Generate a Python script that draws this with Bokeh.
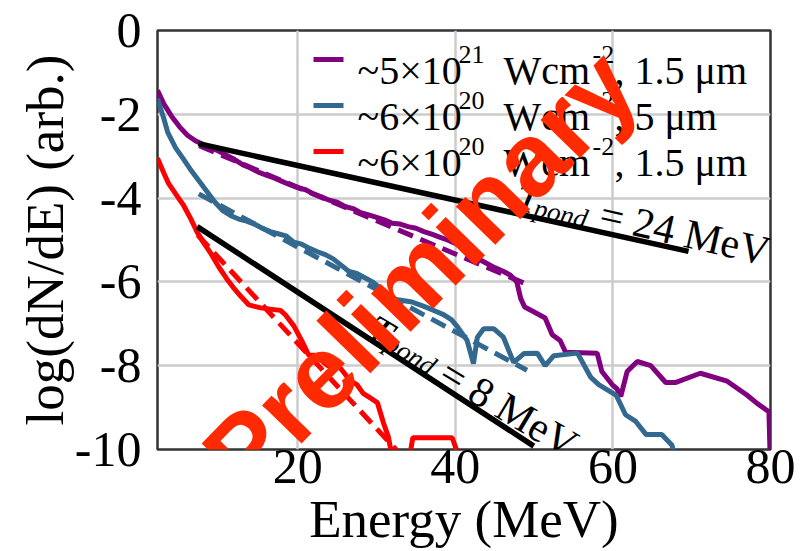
from bokeh.plotting import figure
from bokeh.models import Label, FixedTicker, Range1d
from bokeh.embed import file_html
from bokeh.resources import INLINE

# ---- spectra: energy (MeV) vs log(dN/dE) ----
e_5e21 = [2.2, 3, 4, 5, 6, 7, 8, 9, 10, 11, 12, 13, 14, 15, 16, 17, 18, 19, 20,
          21, 22, 23, 24, 25, 26, 27, 28, 29, 30, 31, 32, 33, 34, 35, 36, 37, 38,
          39, 40, 41, 42, 43, 44, 45, 46, 47, 47.8, 48.3, 48.8, 50, 51.4, 52.3,
          53.3, 54.0, 58.0, 58.6, 59.9, 60.5, 61.0, 61.8, 63.1, 64.8, 66.7, 68.0,
          71.1, 74.5, 77.0, 78.3, 79.8, 80.0]
s_5e21 = [-1.43, -1.75, -2.05, -2.3, -2.5, -2.63, -2.72, -2.8, -2.88, -2.98,
          -3.08, -3.2, -3.28, -3.38, -3.45, -3.52, -3.6, -3.68, -3.75, -3.8,
          -3.9, -3.97, -4.05, -4.1, -4.2, -4.25, -4.35, -4.4, -4.46, -4.52,
          -4.6, -4.62, -4.68, -4.72, -4.8, -4.86, -4.93, -5.0, -5.08, -5.18,
          -5.3, -5.46, -5.56, -5.66, -5.74, -5.84, -6.0, -6.4, -6.6, -6.72,
          -6.86, -7.26, -7.4, -7.68, -7.7, -8.14, -8.45, -8.55, -8.73, -8.14,
          -7.9, -8.0, -8.4, -8.4, -8.18, -8.37, -8.7, -8.9, -9.1, -10.5]

e_6e20_5um = [2.2, 3, 3.5, 4.5, 5.5, 6.5, 7.5, 8.5, 9.5, 10.5, 11.5, 12.5, 13.5,
              14.5, 15.5, 16.5, 17.5, 18.5, 19.5, 20.5, 21.5, 22.5, 23.5, 24.5,
              25.5, 26.5, 27.5, 28.5, 29.5, 30.5, 31.5, 32.5, 33.5, 34.5, 35.5,
              36.5, 37.5, 38.5, 39.5, 40.3, 41.5, 42.3, 42.8, 43.6, 44.9, 46.1,
              47.4, 48.7, 50.4, 51.4, 52.5, 55.5, 57.2, 58.2, 59.5, 60.4, 61.6,
              62.9, 64.2, 66.2, 67.5, 68.3]
s_6e20_5um = [-1.63, -2.1, -2.43, -2.8, -3.07, -3.35, -3.6, -3.85, -4.1, -4.3,
              -4.42, -4.5, -4.55, -4.62, -4.72, -4.8, -4.85, -4.9, -5.05, -5.1,
              -5.2, -5.28, -5.35, -5.45, -5.6, -5.75, -5.8, -5.9, -6.0, -6.15,
              -6.3, -6.42, -6.45, -6.48, -6.55, -6.62, -6.7, -6.78, -6.9, -7.08,
              -7.4, -7.95, -7.32, -7.12, -7.12, -7.32, -7.92, -7.71, -7.7, -8.0,
              -7.76, -7.7, -8.28, -8.45, -8.6, -8.7, -9.17, -9.33, -9.64, -9.64,
              -9.9, -10.5]

e_6e20_15um = [2.2, 3, 3.6, 4.5, 5.5, 6.3, 7.2, 8.0, 8.9, 10, 11, 11.8, 12.8,
               13.8, 15.3, 16.5, 17.8, 18.4, 19.5, 20.5, 21.4, 22.2, 23.8, 25,
               25.8, 26.6, 27.5, 28.3, 29.3, 30.1, 30.9, 31.5, 32.2, 34.0, 34.6,
               39.6, 40.9, 42.0]
s_6e20_15um = [-3.05, -3.4, -3.65, -3.9, -4.17, -4.45, -4.8, -5.05, -5.3, -5.65,
               -5.93, -6.13, -6.35, -6.55, -6.62, -6.65, -6.68, -6.78, -7.05,
               -7.4, -7.75, -7.75, -8.0, -7.97, -8.15, -8.35, -8.45, -8.66,
               -8.78, -8.88, -9.38, -9.7, -10.4, -10.4, -9.72, -9.72, -10.4,
               -10.4]

# ---- exponential fits (dashed) ----
fit_5e21_e = [7.5, 49.5]
fit_5e21_s = [-2.75, -6.09]
fit_6e20_5um_e = [7.44, 49.1]
fit_6e20_5um_s = [-3.9, -8.11]
fit_6e20_15um_e = [7.3, 33.0]
fit_6e20_15um_s = [-4.88, -10.11]

# ---- ponderomotive temperature reference slopes ----
tpond24_e = [7.4, 69.6]
tpond24_s = [-2.70, -5.27]
tpond8_e = [7.24, 49.96]
tpond8_s = [-4.68, -9.92]

x_ticks = [20, 40, 60, 80]
y_ticks = [0, -2, -4, -6, -8, -10]
y_tick_labels = ["0", "-2", "-4", "-6", "-8", "-10"]

# legend rows: (base, exponent, unit, unit exponent, tail)
legend_rows = [("~5×10", "21", "Wcm", "-2", ", 1.5 μm"),
               ("~6×10", "20", "Wcm", "-2", ", 5 μm"),
               ("~6×10", "20", "Wcm", "-2", ", 1.5 μm")]

PURPLE = "#800080"
BLUE = "#34698f"
RED = "#ff0000"
SERIF = "Liberation Serif"

X0, X1, Y0, Y1 = 2.2, 80.0, -10.0, 0.0
W, H = 809, 565
FL, FT, FR, FB = 157, 30, 39, 116          # frame borders in px
FW, FH = W - FL - FR, H - FT - FB


def at(px, py):
    """Canvas pixel position -> data coordinates of this frame."""
    return (X0 + (px - FL) * (X1 - X0) / FW,
            Y1 - (py - FT) * (Y1 - Y0) / FH)


p = figure(width=W, height=H, output_backend="svg", toolbar_location=None,
           x_range=Range1d(X0, X1), y_range=Range1d(Y0, Y1),
           min_border_left=FL, min_border_right=FR,
           min_border_top=FT, min_border_bottom=FB)

p.background_fill_color = "white"
p.border_fill_color = "white"
p.outline_line_color = "#333333"
p.outline_line_width = 2.5

p.xgrid.ticker = FixedTicker(ticks=x_ticks)
p.ygrid.ticker = FixedTicker(ticks=y_ticks)
for g in (p.xgrid, p.ygrid):
    g.grid_line_color = "#cccccc"
    g.grid_line_width = 2.5

p.xaxis.ticker = FixedTicker(ticks=x_ticks)
p.yaxis.ticker = FixedTicker(ticks=y_ticks)
p.yaxis.major_label_overrides = {t: s for t, s in zip(y_ticks, y_tick_labels)}
p.xaxis.major_label_overrides = {t: str(t) for t in x_ticks}

for ax in (p.xaxis[0], p.yaxis[0]):
    ax.axis_line_color = None
    ax.major_tick_line_color = None
    ax.minor_tick_line_color = None
    ax.major_label_text_font = SERIF
    ax.major_label_text_font_size = "50px"
    ax.major_label_text_color = "black"
    ax.axis_label_text_font = SERIF
    ax.axis_label_text_font_size = "53px"
    ax.axis_label_text_font_style = "normal"
    ax.axis_label_text_color = "black"

p.xaxis.axis_label = "Energy (MeV)"
p.yaxis.axis_label = "log(dN/dE) (arb.)"
p.xaxis.major_label_standoff = -6
p.xaxis.axis_label_standoff = 4
p.yaxis.major_label_standoff = 10
p.yaxis.axis_label_standoff = -2

LW = 5

# measured spectra
p.line(e_5e21, s_5e21, line_color=PURPLE, line_width=LW)
p.line(e_6e20_5um, s_6e20_5um, line_color=BLUE, line_width=LW)
p.line(e_6e20_15um, s_6e20_15um, line_color=RED, line_width=LW)

# fits
p.line(fit_5e21_e, fit_5e21_s, line_color=PURPLE, line_width=LW, line_dash="16 8")
p.line(fit_6e20_5um_e, fit_6e20_5um_s, line_color=BLUE, line_width=LW, line_dash="16 8")
p.line(fit_6e20_15um_e, fit_6e20_15um_s, line_color=RED, line_width=LW, line_dash="16 8")

# reference slopes
p.line(tpond24_e, tpond24_s, line_color="black", line_width=5.5)
p.line(tpond8_e, tpond8_s, line_color="black", line_width=5.5)


def text(px, py, s, size, style="normal", angle=0.0, align="left",
         font=SERIF, color="black", baseline="alphabetic"):
    x, y = at(px, py)
    p.add_layout(Label(x=x, y=y, text=s, angle=angle, angle_units="rad",
                       text_font=font, text_font_size=f"{size}px",
                       text_font_style=style, text_color=color,
                       text_align=align, text_baseline=baseline))


# legend
legend_colors = [PURPLE, BLUE, RED]
row_baselines = [70, 116, 162]
for (base, ex, unit, uex, tail), col, yb in zip(legend_rows, legend_colors,
                                                row_baselines):
    (lx0, ly), (lx1, _) = at(313, yb - 11), at(343, yb - 11)
    p.line([lx0, lx1], [ly, ly], line_color=col, line_width=LW)
    text(357, yb, base, 40)
    text(458, yb - 16, ex, 26)
    text(503, yb, unit, 40)
    text(592, yb - 16, uex, 26)
    text(614, yb, tail, 40)

# T_pond annotations along the reference slopes
for (tx, ty), (sx, sy), (rx, ry), val, ang in [
        ((516, 195), (534, 207), (600, 213), "= 24 MeV", -0.225),
        ((369, 325), (387, 340), (443, 369), "= 8 MeV", -0.54)]:
    text(tx, ty, "T", 42, style="italic", angle=ang)
    text(sx, sy, "pond", 27, style="italic", angle=ang)
    text(rx, ry, val, 42, angle=ang)

# watermark
text(419.6, 270, "Preliminary", 104, style="bold", angle=0.798,
     align="center", font="Liberation Sans", color="#ff2a00",
     baseline="middle")

open("out.html", "w").write(file_html(p, INLINE))
